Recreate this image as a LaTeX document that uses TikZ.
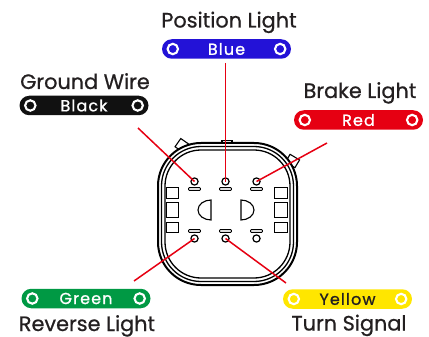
\documentclass[tikz,border=0pt]{standalone}
\usepackage{fontspec}
\setmainfont{Poppins}[FakeBold=0.7]
\newfontfamily\headtext[FakeBold=0.7]{Poppins}
\newfontfamily\pilltext[LetterSpace=7,FakeBold=1.0]{Poppins}
\definecolor{cblue}{RGB}{35,18,215}
\definecolor{cblack}{RGB}{17,17,17}
\definecolor{cred}{RGB}{230,0,18}
\definecolor{cgreen}{RGB}{0,153,68}
\definecolor{cyellow}{RGB}{255,230,0}
\definecolor{ctext}{RGB}{35,31,32}
\begin{document}
\begin{tikzpicture}[x=1pt,y=-1pt,
  heading/.style={anchor=base,text=ctext,font=\headtext\fontsize{20.8}{21}\selectfont,inner sep=0pt},
  pill/.style={rectangle,rounded corners=9.75pt,minimum width=129pt,minimum height=19.5pt,inner sep=0pt,font=\pilltext\fontsize{16}{16}\selectfont},
  ring/.style={circle,draw=white,line width=2.1pt,minimum size=10.4pt,inner sep=0pt},
  wire/.style={draw=cred,line width=1.5pt},
  outl/.style={draw=black,fill=white},
  pinc/.style={circle,draw=black,line width=1.2pt,fill=white,minimum size=7.2pt,inner sep=0pt},
  slot/.style={draw=black,line width=0.9pt,rounded corners=1pt},
  tab/.style={draw=black,line width=1.1pt,fill=white}
]
\useasboundingbox (0,0) rectangle (429,337);

% headings
\node[heading] (hpos) at (229,27.5) {Position Light};
\node[heading] (hgnd) at (85,89) {Ground Wire};
\node[heading] (hbrk) at (360,98) {Brake Light};
\node[heading] (hrev) at (87,331) {Reverse Light};
\node[heading] (htrn) at (349,330.5) {Turn Signal};

% pills
\node[pill,fill=cblue,text=white] (pblue) at (226.5,49) {Blue};
\node[pill,fill=cblack,text=white] (pblack) at (84,105.5) {Black};
\node[pill,fill=cred,text=white] (pred) at (358.5,120) {Red};
\node[pill,fill=cgreen,text=white] (pgreen) at (86,298.5) {Green};
\node[pill,fill=cyellow,text=ctext] (pyellow) at (347.5,299) {Yellow};
\foreach \p/\c in {pblue/cblue,pblack/cblack,pred/cred,pgreen/cgreen,pyellow/cyellow}{
  \node[ring,fill=\c] (\p L) at ([xshift=11pt]\p.west) {};
  \node[ring,fill=\c] (\p R) at ([xshift=-11pt]\p.east) {};
}

% tabs
\draw[tab] (222,140.5) rectangle (232,147);
\draw[tab,rotate around={-35:(182,145.5)}] (177,140.5) rectangle (187,150.5);
\draw[tab,rotate around={-31:(292.5,161)}] (287,156.5) rectangle (298,165.5);

% connector outline
\draw[outl,line width=2pt,rounded corners=43pt] (158,143) rectangle (297,285);
\draw[draw=black,line width=1.3pt,rounded corners=39.5pt] (161.5,146.5) rectangle (293.5,281.5);
\draw[draw=black,line width=1.3pt,rounded corners=36pt] (165,150) rectangle (290,278);

% side blocks
\foreach \ya/\yb in {187/198,202/217,222/232}{
  \draw[black,line width=1pt] (166,\ya) rectangle (178,\yb);
  \draw[black,line width=1pt] (274,\ya) rectangle (287,\yb);
}

% D shapes
\draw[black,line width=1.1pt] (211,200) -- (211,220) arc[start angle=270,end angle=90,x radius=13pt,y radius=10pt] -- cycle;
\draw[black,line width=1.1pt] (241,200) -- (241,220) arc[start angle=-90,end angle=90,x radius=13pt,y radius=10pt] -- cycle;

% slots
\foreach \x in {194.5,225.5,256.5}{
  \draw[slot] (\x-6,187.6) rectangle (\x+6,190.4);
  \draw[slot] (\x-6,229.6) rectangle (\x+6,232.4);
}

% pins
\node[pinc] (t1) at (194.5,181.5) {};
\node[pinc] (t2) at (225.5,181.5) {};
\node[pinc] (t3) at (256.5,181.5) {};
\node[pinc] (b1) at (194.5,238.5) {};
\node[pinc] (b2) at (225.5,238.5) {};
\node[pinc] (b3) at (256.5,238.5) {};

% wires
\coordinate (wg) at (138,128);
\coordinate (wp) at (225.5,63);
\coordinate (wb) at (327,143);
\coordinate (wr) at (134,281);
\coordinate (wt) at (286,283);
\draw[wire] (wg) -- (t1.center);
\draw[wire] (wp) -- (t2.center);
\draw[wire] (wb) -- (t3.center);
\draw[wire] (wr) -- (b1.center);
\draw[wire] (wt) -- (b2.center);
\end{tikzpicture}
\end{document}
